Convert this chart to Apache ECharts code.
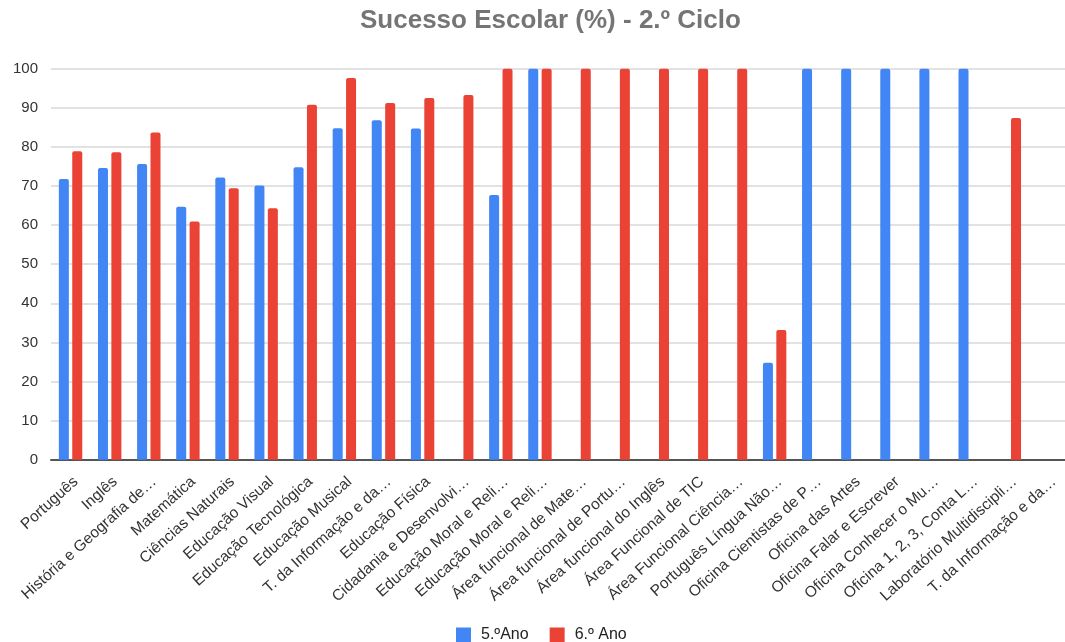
<!DOCTYPE html>
<html>
<head>
<meta charset="utf-8">
<script src="https://cdn.jsdelivr.net/npm/echarts@6/dist/echarts.min.js"></script>
<style>
  html, body { margin: 0; padding: 0; background: #fff; }
  #main { width: 1065px; height: 642px; }
</style>
</head>
<body>
<div id="main"></div>
<script>
// disciplinas (eixo x)
var disciplinas = [
  'Português', 'Inglês', 'História e Geografia de…', 'Matemática', 'Ciências Naturais',
  'Educação Visual', 'Educação Tecnológica', 'Educação Musical', 'T. da Informação e da…',
  'Educação Física', 'Cidadania e Desenvolvi…', 'Educação Moral e Reli…', 'Educação Moral e Reli…',
  'Área funcional de Mate…', 'Área funcional de Portu…', 'Área funcional do Inglês',
  'Área Funcional de TIC', 'Área Funcional Ciência…', 'Português Língua Não…',
  'Oficina Cientistas de P…', 'Oficina das Artes', 'Oficina Falar e Escrever',
  'Oficina Conhecer o Mu…', 'Oficina 1, 2, 3, Conta L…', 'Laboratório Multidiscipli…',
  'T. da Informação e da…'
]
// 5.º ano
var ano5 = [71.8, 74.6, 75.6, 64.7, 72.2, 70.1, 74.8, 84.8, 86.8, 84.7, null, 67.7, 100,
  null, null, null, null, null, 24.8, 100, 100, 100, 100, 100, null, null]
// 6.º ano
var ano6 = [78.9, 78.6, 83.7, 60.9, 69.4, 64.3, 90.8, 97.6, 91.2, 92.5, 93.3, 100, 100,
  100, 100, 100, 100, 100, 33.2, null, null, null, null, null, 87.4, null]
var yTicks = { min: 0, max: 100, interval: 10 }

var chart = echarts.init(document.getElementById('main'))
var option = {
  color: ['#4285f4', '#ea4335'],
  textStyle: { fontFamily: 'Liberation Sans, Arial, sans-serif' },
  title: {
    text: 'Sucesso Escolar (%) - 2.º Ciclo',
    left: 355,
    top: 3,
    textStyle: { color: '#757575', fontSize: 26, fontWeight: 'bold' }
  },
  legend: {
    data: ['5.ºAno', '6.º Ano'],
    left: 456,
    top: 627,
    padding: 0,
    itemWidth: 15,
    itemHeight: 15,
    itemGap: 21,
    icon: 'rect',
    textStyle: { color: '#222', fontSize: 16, padding: [0, 0, 0, 5] }
  },
  grid: {
    left: 51,
    right: -3,
    top: 68.7,
    bottom: 182.3,
    containLabel: false,
    outerBoundsMode: 'none'
  },
  xAxis: {
    type: 'category',
    data: disciplinas,
    axisTick: { show: false },
    axisLine: { lineStyle: { color: '#555', width: 2 } },
    axisLabel: {
      rotate: 42,
      interval: 0,
      margin: 14,
      color: '#333',
      fontSize: 15.5,
      verticalAlign: 'top'
    }
  },
  yAxis: {
    type: 'value',
    min: yTicks.min,
    max: yTicks.max,
    interval: yTicks.interval,
    axisLine: { show: false },
    axisTick: { show: false },
    splitLine: { lineStyle: { color: '#d9d9d9', width: 1.5 } },
    axisLabel: { color: '#333', fontSize: 15, margin: 13 }
  },
  series: [
    {
      name: '5.ºAno',
      type: 'bar',
      data: ano5,
      barWidth: 10,
      barGap: '34%',
      itemStyle: { borderRadius: [2, 2, 0, 0] }
    },
    {
      name: '6.º Ano',
      type: 'bar',
      data: ano6,
      barWidth: 10,
      itemStyle: { borderRadius: [2, 2, 0, 0] }
    }
  ]
}
chart.setOption(option)
</script>
</body>
</html>
